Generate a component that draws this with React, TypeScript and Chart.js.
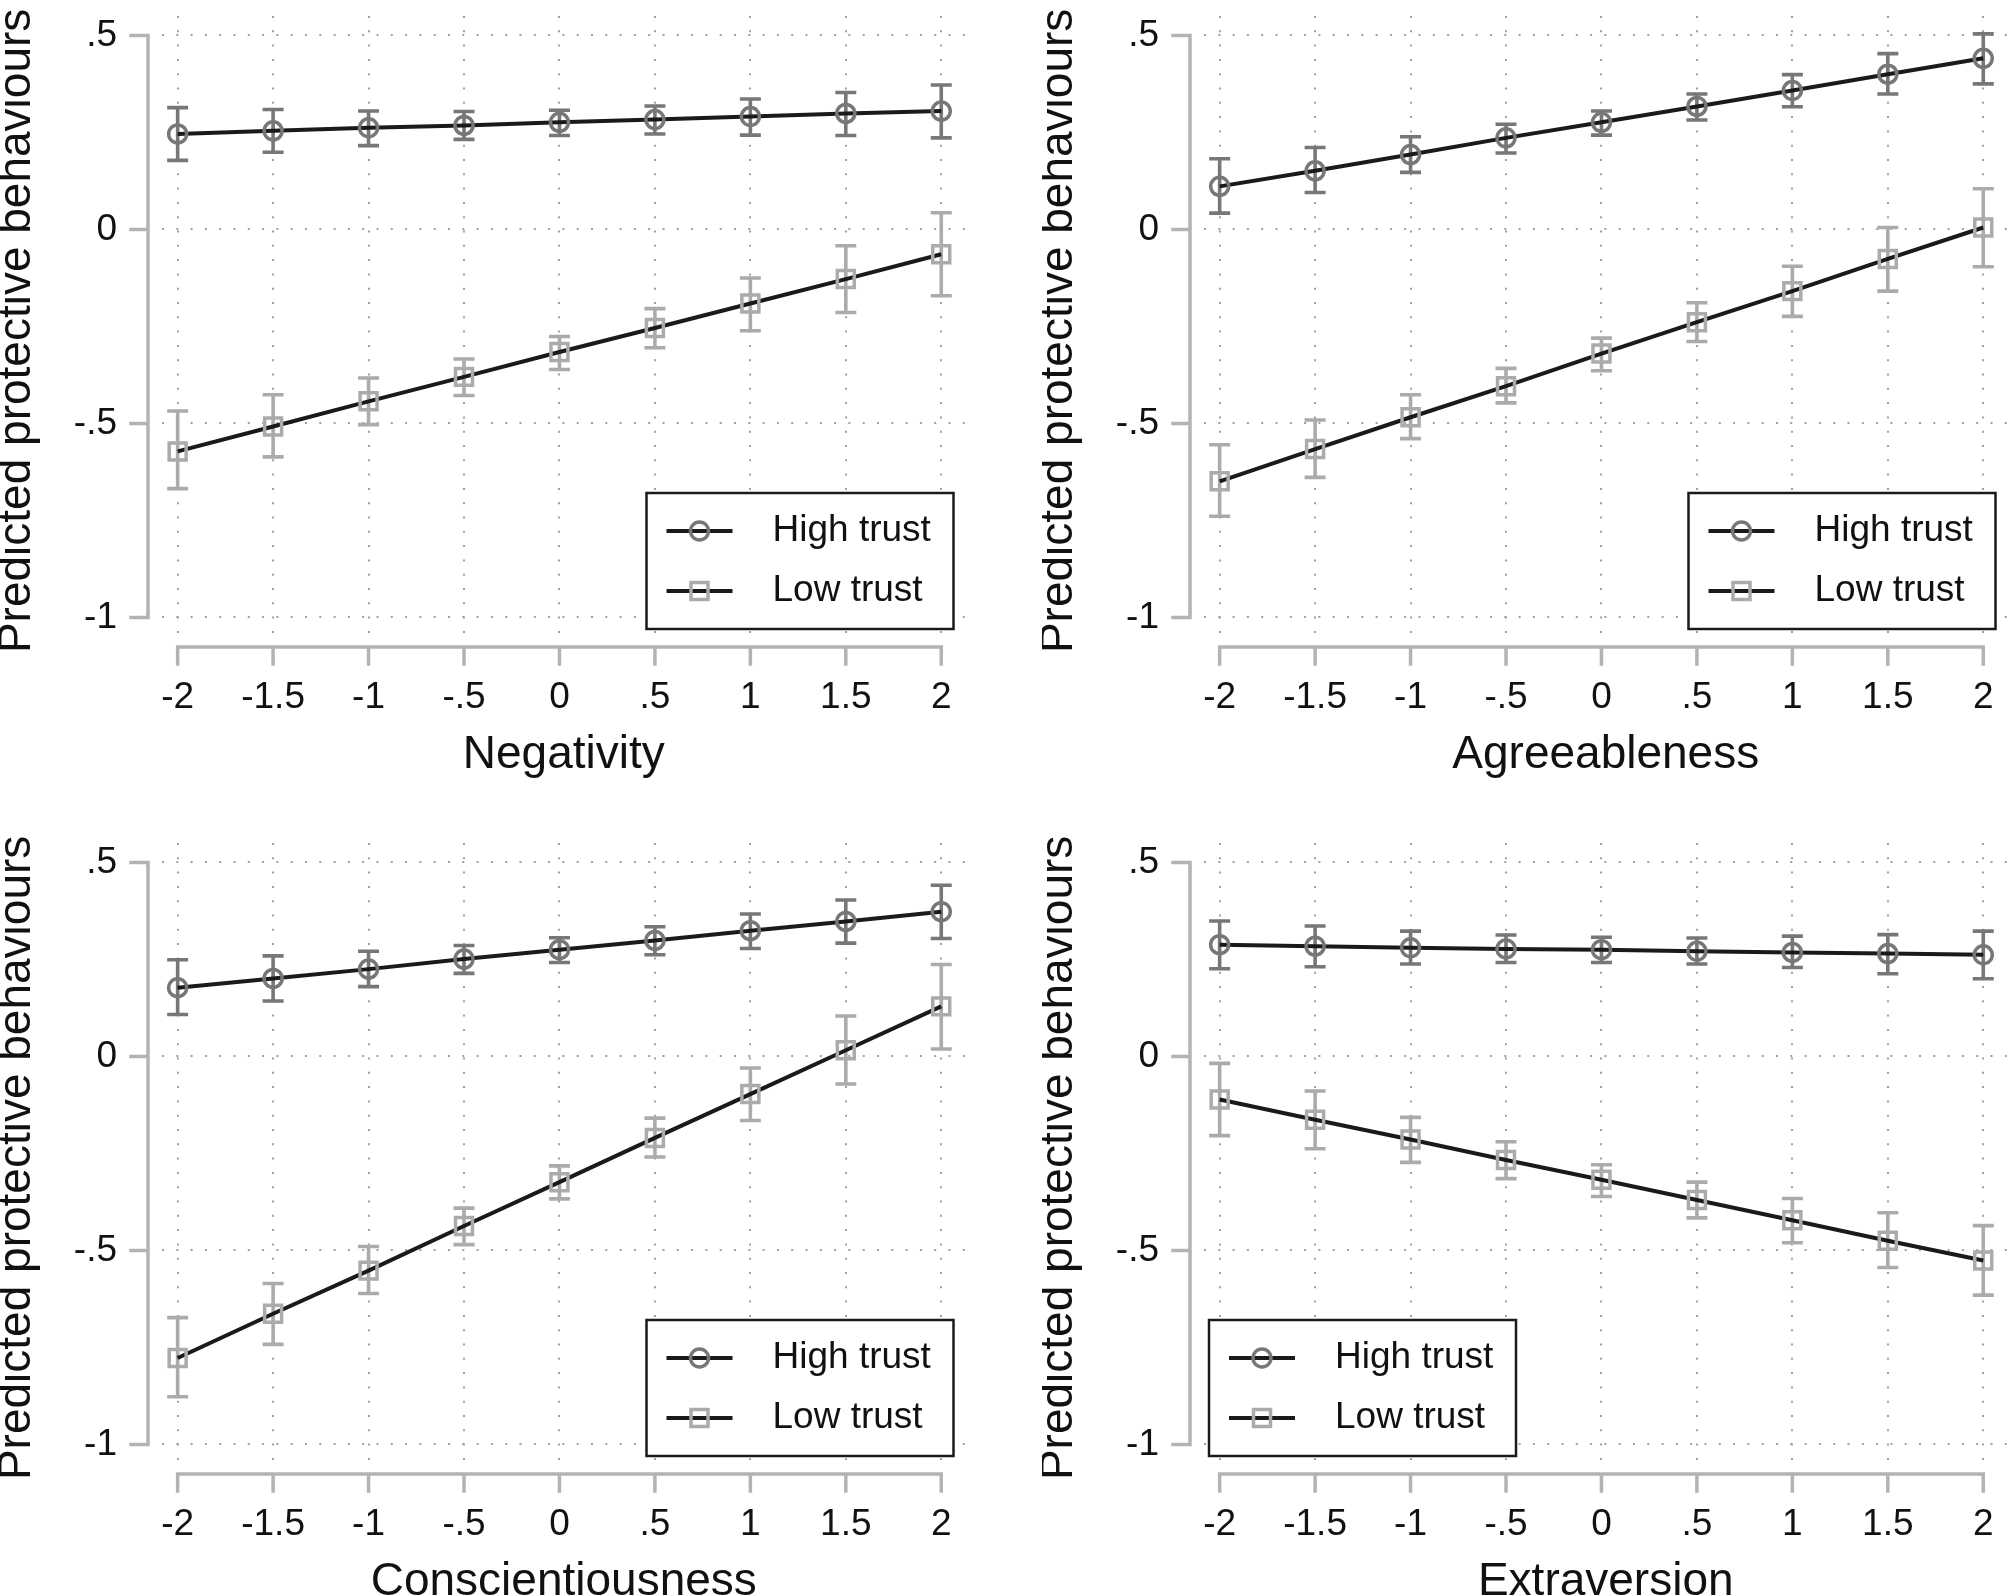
import { useEffect, useRef } from 'react';
import { Chart, registerables } from 'chart.js';

Chart.register(...registerables);

// x grid of the predictions, shared by all four panels
const xValues = [-2, -1.5, -1, -0.5, 0, 0.5, 1, 1.5, 2];
const xTicks = [-2, -1.5, -1, -0.5, 0, 0.5, 1, 1.5, 2];
const yTicks = [-1, -0.5, 0, 0.5];

// Negativity
const negHigh = [0.246, 0.254, 0.262, 0.268, 0.276, 0.283, 0.291, 0.299, 0.305];
const negHighLo = [0.178, 0.199, 0.216, 0.232, 0.242, 0.246, 0.243, 0.242, 0.236];
const negHighHi = [0.314, 0.309, 0.305, 0.304, 0.307, 0.318, 0.336, 0.353, 0.372];
const negLow = [-0.572, -0.508, -0.443, -0.38, -0.316, -0.254, -0.191, -0.128, -0.064];
const negLowLo = [-0.668, -0.586, -0.503, -0.428, -0.361, -0.305, -0.261, -0.214, -0.171];
const negLowHi = [-0.468, -0.426, -0.383, -0.334, -0.276, -0.204, -0.125, -0.042, 0.043];

// Agreeableness
const agrHigh = [0.111, 0.151, 0.193, 0.236, 0.276, 0.317, 0.358, 0.4, 0.441];
const agrHighLo = [0.042, 0.095, 0.147, 0.197, 0.243, 0.282, 0.316, 0.349, 0.375];
const agrHighHi = [0.182, 0.211, 0.239, 0.271, 0.305, 0.349, 0.399, 0.453, 0.504];
const agrLow = [-0.649, -0.566, -0.484, -0.404, -0.32, -0.239, -0.159, -0.076, 0.005];
const agrLowLo = [-0.739, -0.639, -0.539, -0.447, -0.364, -0.289, -0.224, -0.159, -0.096];
const agrLowHi = [-0.555, -0.491, -0.426, -0.358, -0.28, -0.189, -0.095, 0.005, 0.105];

// Conscientiousness
const conHigh = [0.177, 0.201, 0.225, 0.251, 0.275, 0.299, 0.324, 0.348, 0.373];
const conHighLo = [0.108, 0.143, 0.18, 0.214, 0.242, 0.262, 0.278, 0.292, 0.304];
const conHighHi = [0.249, 0.259, 0.271, 0.286, 0.306, 0.334, 0.367, 0.403, 0.441];
const conLow = [-0.777, -0.663, -0.552, -0.437, -0.324, -0.21, -0.097, 0.016, 0.129];
const conLowLo = [-0.877, -0.742, -0.611, -0.485, -0.367, -0.259, -0.165, -0.071, 0.019];
const conLowHi = [-0.673, -0.585, -0.49, -0.391, -0.282, -0.159, -0.03, 0.104, 0.237];

// Extraversion
const extHigh = [0.288, 0.284, 0.28, 0.277, 0.275, 0.271, 0.268, 0.265, 0.262];
const extHighLo = [0.226, 0.231, 0.238, 0.242, 0.242, 0.238, 0.229, 0.213, 0.2];
const extHighHi = [0.349, 0.336, 0.323, 0.313, 0.307, 0.305, 0.31, 0.314, 0.323];
const extLow = [-0.111, -0.163, -0.214, -0.267, -0.318, -0.37, -0.422, -0.475, -0.526];
const extLowLo = [-0.204, -0.238, -0.273, -0.315, -0.361, -0.416, -0.48, -0.544, -0.615];
const extLowHi = [-0.018, -0.089, -0.157, -0.22, -0.279, -0.324, -0.366, -0.403, -0.436];

const FONT = '"Liberation Sans", Arial, Helvetica, sans-serif';
const TEXT = '#111111';
const AXIS = '#b3b3b3';
const GRID = '#a0a0a0';
const HIGH = '#777777';
const LOW = '#ababab';
const LINE = '#1a1a1a';

// the layout keeps ~15px on the right, so the canvas is a bit wider than the plot needs
const W = 981;
const H = 800;

// Stata-style labels: .5, -.5
const fmt = (v: number) => (v === 0 ? '0' : String(v).replace('0.', '.'));

type PanelProps = {
  title: string;
  high: number[];
  highLo: number[];
  highHi: number[];
  low: number[];
  lowLo: number[];
  lowHi: number[];
  legendSide: 'left' | 'right';
  left: number;
  top: number;
};

function Panel({ title, high, highLo, highHi, low, lowLo, lowHi, legendSide, left, top }: PanelProps) {
  const canvasRef = useRef<HTMLCanvasElement>(null);
  const chartRef = useRef<Chart | null>(null);

  useEffect(() => {
    if (!canvasRef.current) return;
    if (chartRef.current) chartRef.current.destroy();

    const toPoints = (ys: number[]) => xValues.map((x, i) => ({ x, y: ys[i] }));

    // offset axis lines with outward ticks, plus the CI whiskers
    const axesPlugin = {
      id: 'offsetAxes',
      beforeDatasetsDraw(chart: any) {
        const { ctx, chartArea, scales } = chart;
        const xs = scales.x;
        const ys = scales.y;
        const axisX = chartArea.left - 14;
        const axisY = chartArea.bottom + 14;
        ctx.save();
        ctx.strokeStyle = AXIS;
        ctx.lineWidth = 3.5;
        ctx.lineCap = 'square';
        ctx.beginPath();
        ctx.moveTo(axisX, ys.getPixelForValue(yTicks[0]));
        ctx.lineTo(axisX, ys.getPixelForValue(yTicks[yTicks.length - 1]));
        yTicks.forEach((v) => {
          const py = ys.getPixelForValue(v);
          ctx.moveTo(axisX, py);
          ctx.lineTo(axisX - 17, py);
        });
        ctx.moveTo(xs.getPixelForValue(xTicks[0]), axisY);
        ctx.lineTo(xs.getPixelForValue(xTicks[xTicks.length - 1]), axisY);
        xTicks.forEach((v) => {
          const px = xs.getPixelForValue(v);
          ctx.moveTo(px, axisY);
          ctx.lineTo(px, axisY + 17);
        });
        ctx.stroke();

        const bars = [
          { lo: highLo, hi: highHi, color: HIGH },
          { lo: lowLo, hi: lowHi, color: LOW },
        ];
        ctx.lineCap = 'butt';
        bars.forEach(({ lo, hi, color }) => {
          ctx.strokeStyle = color;
          ctx.lineWidth = 3.6;
          ctx.beginPath();
          xValues.forEach((xv, i) => {
            const px = xs.getPixelForValue(xv);
            const y1 = ys.getPixelForValue(lo[i]);
            const y2 = ys.getPixelForValue(hi[i]);
            ctx.moveTo(px, y1);
            ctx.lineTo(px, y2);
            ctx.moveTo(px - 10.5, y1);
            ctx.lineTo(px + 10.5, y1);
            ctx.moveTo(px - 10.5, y2);
            ctx.lineTo(px + 10.5, y2);
          });
          ctx.stroke();
        });
        ctx.restore();
      },
    };

    // boxed legend inside the plot region
    const legendPlugin = {
      id: 'boxLegend',
      afterDatasetsDraw(chart: any) {
        const { ctx, chartArea } = chart;
        const bw = 307;
        const bh = 136;
        const bx = legendSide === 'left' ? chartArea.left + 5 : chartArea.right - 12 - bw;
        const by = chartArea.bottom - 4 - bh;
        ctx.save();
        ctx.fillStyle = '#ffffff';
        ctx.fillRect(bx, by, bw, bh);
        ctx.strokeStyle = '#1a1a1a';
        ctx.lineWidth = 2.5;
        ctx.strokeRect(bx, by, bw, bh);
        const rows = [
          { label: 'High trust', shape: 'circle', color: HIGH, dy: 38 },
          { label: 'Low trust', shape: 'rect', color: LOW, dy: 98 },
        ];
        rows.forEach((r) => {
          const cy = by + r.dy;
          ctx.strokeStyle = LINE;
          ctx.lineWidth = 4;
          ctx.beginPath();
          ctx.moveTo(bx + 20, cy);
          ctx.lineTo(bx + 86, cy);
          ctx.stroke();
          ctx.strokeStyle = r.color;
          ctx.lineWidth = 3.5;
          ctx.beginPath();
          if (r.shape === 'circle') ctx.arc(bx + 53, cy, 9, 0, Math.PI * 2);
          else ctx.rect(bx + 53 - 8.5, cy - 8.5, 17, 17);
          ctx.stroke();
          ctx.fillStyle = TEXT;
          ctx.font = `37px ${FONT}`;
          ctx.textBaseline = 'middle';
          ctx.textAlign = 'left';
          ctx.fillText(r.label, bx + 126, cy);
        });
        ctx.restore();
      },
    };

    chartRef.current = new Chart(canvasRef.current, {
      type: 'line',
      data: {
        datasets: [
          {
            label: 'High trust',
            data: toPoints(high),
            showLine: false,
            pointStyle: 'circle',
            pointRadius: 9,
            pointBorderWidth: 3.5,
            pointBorderColor: HIGH,
            pointBackgroundColor: 'rgba(0,0,0,0)',
            order: 1,
          },
          {
            label: 'Low trust',
            data: toPoints(low),
            showLine: false,
            pointStyle: 'rect',
            pointRadius: 12,
            pointBorderWidth: 3.5,
            pointBorderColor: LOW,
            pointBackgroundColor: 'rgba(0,0,0,0)',
            order: 1,
          },
          {
            label: 'High trust line',
            data: toPoints(high),
            borderColor: LINE,
            borderWidth: 4,
            pointRadius: 0,
            tension: 0,
            order: 2,
          },
          {
            label: 'Low trust line',
            data: toPoints(low),
            borderColor: LINE,
            borderWidth: 4,
            pointRadius: 0,
            tension: 0,
            order: 2,
          },
        ],
      },
      options: {
        responsive: false,
        animation: false,
        devicePixelRatio: 1,
        layout: { padding: { top: 16, right: 4, left: 0, bottom: 0 } },
        plugins: {
          legend: { display: false },
          tooltip: { enabled: false },
        },
        scales: {
          x: {
            type: 'linear',
            min: -2.082,
            max: 2.127,
            afterBuildTicks: (s: any) => {
              s.ticks = xTicks.map((value) => ({ value }));
            },
            afterFit: (s: any) => {
              s.height = 167;
              s.paddingLeft = 0;
              s.paddingRight = 0;
            },
            grid: { color: GRID, lineWidth: 2, drawTicks: false },
            border: { display: false, dash: [2, 12.3] },
            ticks: {
              padding: 42.5,
              color: TEXT,
              font: { family: FONT, size: 37 },
              maxRotation: 0,
              callback: (v: any) => fmt(Number(v)),
            },
            title: {
              display: true,
              text: title,
              color: TEXT,
              font: { family: FONT, size: 46, lineHeight: 1.2 },
              padding: { top: 0, bottom: 17 },
            },
          },
          y: {
            type: 'linear',
            min: -1.04,
            max: 0.55,
            afterBuildTicks: (s: any) => {
              s.ticks = yTicks.map((value) => ({ value }));
            },
            afterFit: (s: any) => {
              s.width = 162;
              s.paddingTop = 0;
              s.paddingBottom = 0;
            },
            grid: { color: GRID, lineWidth: 2, drawTicks: false },
            border: { display: false, dash: [2, 12.3] },
            ticks: {
              padding: 45,
              color: TEXT,
              font: { family: FONT, size: 37 },
              callback: (v: any) => fmt(Number(v)),
            },
            title: {
              display: true,
              // trailing no-break space nudges the centred title slightly down
              text: 'Predicted protective behaviours\u00a0',
              color: TEXT,
              font: { family: FONT, size: 46, lineHeight: 0.76 },
              padding: { top: 0, bottom: 0 },
            },
          },
        },
      },
      plugins: [axesPlugin, legendPlugin],
    } as any);

    return () => {
      if (chartRef.current) {
        chartRef.current.destroy();
        chartRef.current = null;
      }
    };
  }, [title, high, highLo, highHi, low, lowLo, lowHi, legendSide]);

  return (
    <div style={{ position: 'absolute', left, top, width: W, height: H }}>
      <canvas ref={canvasRef} width={W} height={H} style={{ display: 'block', width: W, height: H }} />
    </div>
  );
}

export default function App() {
  return (
    <div
      style={{
        position: 'fixed',
        left: 0,
        top: 0,
        width: 2008,
        height: 1596,
        overflow: 'hidden',
        background: '#ffffff',
      }}
    >
      <Panel title="Negativity" high={negHigh} highLo={negHighLo} highHi={negHighHi}
        low={negLow} lowLo={negLowLo} lowHi={negLowHi} legendSide="right" left={0} top={0} />
      <Panel title="Agreeableness" high={agrHigh} highLo={agrHighLo} highHi={agrHighHi}
        low={agrLow} lowLo={agrLowLo} lowHi={agrLowHi} legendSide="right" left={1042} top={0} />
      <Panel title="Conscientiousness" high={conHigh} highLo={conHighLo} highHi={conHighHi}
        low={conLow} lowLo={conLowLo} lowHi={conLowHi} legendSide="right" left={0} top={827} />
      <Panel title="Extraversion" high={extHigh} highLo={extHighLo} highHi={extHighHi}
        low={extLow} lowLo={extLowLo} lowHi={extLowHi} legendSide="left" left={1042} top={827} />
    </div>
  );
}
